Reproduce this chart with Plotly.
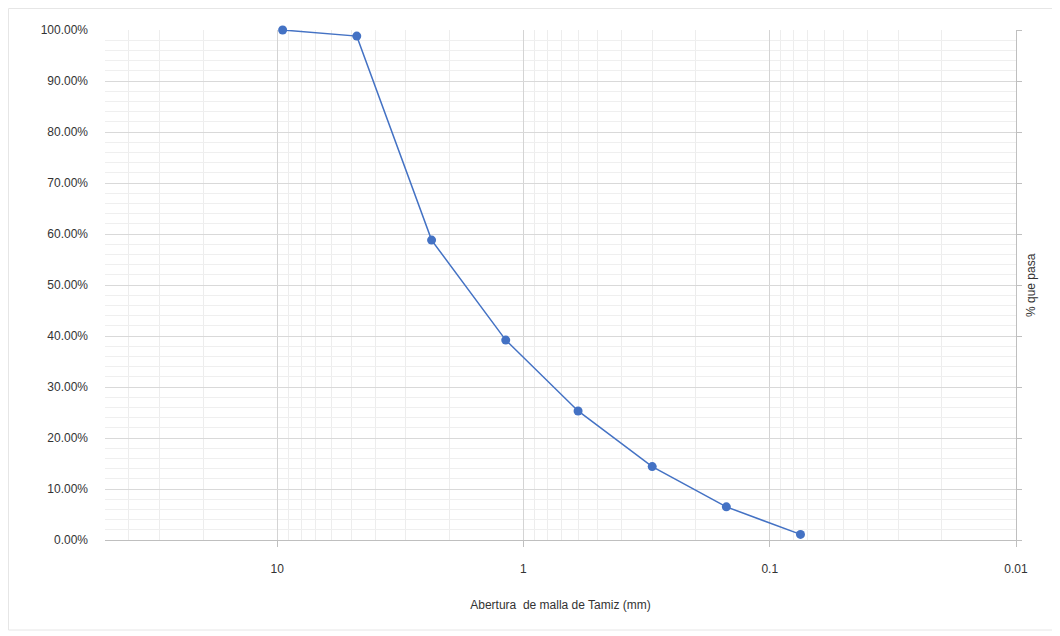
import plotly.graph_objects as go
import math

sieve_mm = [9.5, 4.75, 2.36, 1.18, 0.6, 0.3, 0.15, 0.075]
pct_pass = [1.000, 0.988, 0.588, 0.392, 0.253, 0.144, 0.065, 0.011]
x_title = "Abertura  de malla de Tamiz (mm)"
y_title = "% que pasa"

BLUE = "#4472C4"
FONT = "Liberation Sans, Arial, sans-serif"
TXT = "#333333"

fig = go.Figure()
fig.add_trace(go.Scatter(
    x=sieve_mm, y=pct_pass, mode="lines+markers",
    line=dict(color=BLUE, width=1.5),
    marker=dict(color=BLUE, size=9),
    cliponaxis=False,
    showlegend=False, hoverinfo="x+y",
))
# helper (invisible) trace so the right-hand axis is drawn
fig.add_trace(go.Scatter(x=[None], y=[None], yaxis="y2", showlegend=False, hoverinfo="skip"))

fig.update_layout(
    width=1060, height=636,
    margin=dict(l=97, r=52, t=22, b=104),
    paper_bgcolor="white", plot_bgcolor="white",
    font=dict(family=FONT, size=12, color=TXT),
    xaxis=dict(
        type="log",
        range=[math.log10(50), math.log10(0.01)],
        tick0=0, dtick=1, tickformat="~g", exponentformat="none",
        showgrid=True, gridcolor="#d4d4d4", gridwidth=1,
        minor=dict(dtick="D1", showgrid=True, gridcolor="#ededed", gridwidth=1, ticks=""),
        showline=True, linecolor="#bfbfbf", linewidth=1,
        ticks="outside", ticklen=6, tickcolor="#bfbfbf",
        ticklabelstandoff=12,
        tickfont=dict(size=12, color=TXT),
        zeroline=False,
        title=dict(text=x_title, font=dict(size=12, color=TXT), standoff=25),
    ),
    yaxis=dict(
        range=[0, 1], dtick=0.1, tickformat=".2%",
        showgrid=True, gridcolor="#d9d9d9", gridwidth=1,
        minor=dict(dtick=0.02, showgrid=True, gridcolor="#efefef", gridwidth=1),
        showline=False, ticks="", zeroline=False,
        ticklabelstandoff=16,
        tickfont=dict(size=12, color=TXT),
    ),
    yaxis2=dict(
        overlaying="y", side="right", range=[0, 1], dtick=0.1,
        showgrid=False, showticklabels=False, zeroline=False,
        showline=True, linecolor="#bfbfbf", linewidth=1,
        ticks="outside", ticklen=5, tickcolor="#bfbfbf",
    ),
    annotations=[dict(
        text=y_title, textangle=-90, xref="paper", yref="paper",
        x=1, y=0.5, xshift=15, xanchor="center", yanchor="middle",
        showarrow=False, font=dict(size=12, color=TXT),
    )],
    shapes=[dict(
        type="rect", xref="paper", yref="paper", layer="below",
        x0=-96.5 / 911, x1=1 + 37 / 911, y0=-90 / 510, y1=1 + 21.5 / 510,
        line=dict(color="#e6e6e6", width=1), fillcolor="rgba(0,0,0,0)",
    )],
)

fig.write_html("out.html")
